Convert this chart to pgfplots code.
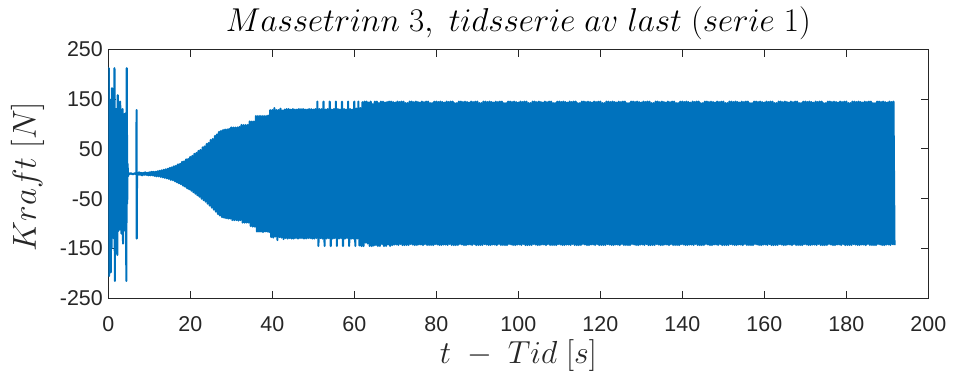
\RequirePackage{fix-cm}
\documentclass[border=0pt]{standalone}
\usepackage[no-math]{fontspec}
\usepackage{pgfplots}
\pgfplotsset{compat=1.18}
\newfontfamily\ticksans{Liberation Sans}
\definecolor{matblue}{HTML}{0072BD}
\definecolor{axgray}{HTML}{262626}
\begin{document}
\begin{tikzpicture}
\path[use as bounding box] (-108.3bp,-79.7bp) rectangle (844.7bp,298.3bp);
\begin{axis}[
  scale only axis, width=820bp, height=249bp,
  xmin=0, xmax=200, ymin=-250, ymax=250,
  xtick={0,20,...,200}, ytick={-250,-150,...,250},
  tick align=inside,
  major tick length=7.5bp,
  axis line style={axgray, line width=0.9bp},
  tick style={axgray, line width=0.9bp},
  /pgf/number format/assume math mode=true,
  tick label style={font=\ticksans\fontsize{21.5}{25}\selectfont, text=axgray},
  xticklabel style={yshift=-15bp},
  yticklabel style={xshift=-2bp},
  title={$Massetrinn\;3,\ tidsserie\;av\;last\;(serie\;1)$},
  title style={at={(axis description cs:0.5,1.0796)}, anchor=center,
    font=\fontsize{33.2}{40}\selectfont},
  xlabel={$t\;-\;Tid\;[s]$},
  x label style={at={(axis description cs:0.5,-0.2317)}, anchor=center,
    font=\fontsize{32}{38}\selectfont, text=axgray},
  ylabel={$Kraft\;[N]$},
  y label style={at={(axis description cs:-0.0985,0.488)}, anchor=center,
    font=\fontsize{33.4}{40}\selectfont, text=axgray},
]
\addplot[matblue, line width=2.1bp, line join=round, no markers] coordinates {
(0,0)(0.1,212)(0.2,-205)(0.3,150)(0.4,-120)(0.5,118)(0.6,-198)(0.7,115)(0.8,-150)(0.9,172)
(1,-115)(1.1,122)(1.2,-112)(1.3,118)(1.4,-130)(1.5,212)(1.6,-215)(1.7,120)(1.8,-160)(1.9,130)
(2,-112)(2.1,118)(2.2,-163)(2.3,158)(2.4,-115)(2.5,120)(2.6,-108)(2.7,122)(2.8,-112)(2.9,145)
(3,-110)(3.1,118)(3.2,-120)(3.3,115)(3.4,-110)(3.5,130)(3.6,-140)(3.7,118)(3.8,-112)(3.9,120)
(4,-110)(4.1,116)(4.2,-115)(4.3,122)(4.4,-215)(4.5,212)(4.6,-60)(4.7,20)(4.8,-5)(4.9,2)
(5,-1)(5.5,1)(6,-1)(6.5,1)(6.85,-1)(6.9,128)(6.95,-130)
(7,2)(7.25,-2)(7.5,3)(7.75,-2)
(8,2)(8.25,-3)(8.5,2)(8.75,-2)
(9,3)(9.25,-2)(9.5,2)(9.75,-3)
(10,3)(10.25,-3)(10.5,4)(10.75,-3)
(11,4)(11.25,-4)(11.5,4)(11.75,-5)
(12,5)(12.25,-5)(12.5,6)(12.75,-6)
(13,7)(13.25,-7)(13.5,8)(13.75,-8)
(14,9)(14.25,-9)(14.5,10)(14.75,-10)
(15,12)(15.25,-12)(15.5,13)(15.75,-13)
(16,15)(16.25,-15)(16.5,16)(16.75,-17)
(17,19)(17.25,-19)(17.5,20)(17.75,-21)
(18,24)(18.25,-24)(18.5,25)(18.75,-26)
(19,29)(19.25,-29)(19.5,30)(19.75,-31)
(20,34)(20.25,-34)(20.5,36)(20.75,-37)
(21,40)(21.25,-40)(21.5,42)(21.75,-43)
(22,46)(22.25,-46)(22.5,48)(22.75,-50)
(23,53)(23.25,-53)(23.5,55)(23.75,-56)
(24,60)(24.25,-60)(24.5,62)(24.75,-64)
(25,68)(25.25,-68)(25.5,70)(25.75,-72)
(26,76)(26.25,-76)(26.5,79)(26.75,-81)
(27,84)(27.25,-84)(27.5,86)(27.75,-87)
(28,88)(28.25,-88)(28.5,89)(28.75,-89)
(29,89)(29.25,-90)(29.5,90)(29.75,-90)
(30,93)(30.25,-93)(30.5,93)(30.75,-93)
(31,93)(31.25,-93)(31.5,93)(31.75,-94)
(32,94)(32.25,-93)(32.5,98)(32.75,-98)
(33,98)(33.25,-98)(33.5,98)(33.75,-98)
(34,98)(34.25,-98)(34.5,105)(34.75,-105)
(35,105)(35.25,-106)(35.5,105)(35.75,-106)
(36,116)(36.25,-116)(36.5,116)(36.75,-116)
(37,116)(37.25,-116)(37.5,116)(37.75,-117)
(38,116)(38.25,-116)(38.5,116)(38.75,-116)
(39,117)(39.25,-117)(39.5,128)(39.75,-127)
(40,128)(40.25,-128)(40.5,132)(40.75,-126)
(41,128)(41.25,-133)(41.5,128)(41.75,-127)
(42,131)(42.25,-128)(42.5,127)(42.75,-131)
(43,129)(43.25,-129)(43.5,130)(43.75,-130)
(44,130)(44.25,-129)(44.5,129)(44.75,-130)
(45,130)(45.25,-130)(45.5,129)(45.75,-129)
(46,129)(46.25,-130)(46.5,130)(46.75,-129)
(47,130)(47.25,-129)(47.5,130)(47.75,-130)
(48,129)(48.25,-130)(48.5,129)(48.75,-129)
(49,130)(49.25,-129)(49.5,130)(49.75,-130)
(50,129)(50.25,-130)(50.5,130)(50.75,-129)
(51,145)(51.25,-145)(51.5,130)(51.75,-129)
(52,130)(52.25,-130)(52.5,145)(52.75,-145)
(53,129)(53.25,-130)(53.5,130)(53.75,-129)
(54,145)(54.25,-145)(54.5,129)(54.75,-130)
(55,130)(55.25,-129)(55.5,145)(55.75,-145)
(56,130)(56.25,-130)(56.5,129)(56.75,-129)
(57,145)(57.25,-145)(57.5,130)(57.75,-130)
(58,129)(58.25,-129)(58.5,145)(58.75,-145)
(59,130)(59.25,-130)(59.5,129)(59.75,-130)
(60,145)(60.25,-145)(60.5,131)(60.75,-130)
(61,145)(61.25,-144)(61.5,132)(61.75,-145)
(62,144)(62.25,-145)(62.5,145)(62.75,-138)
(63,145)(63.25,-140)(63.5,143)(63.75,-145)
(64,145)(64.25,-145)(64.5,140)(64.75,-144)
(65,145)(65.25,-143)(65.5,145)(65.75,-145)
(66,142)(66.25,-145)(66.5,145)(66.75,-141)
(67,145)(67.25,-145)(67.5,143)(67.75,-145)
(68,144)(68.25,-142)(68.5,145)(68.75,-145)
(69,145)(69.25,-143)(69.5,144)(69.75,-142)
(70,143)(70.25,-142)(70.5,145)(70.75,-143)
(71,144)(71.25,-141)(71.5,145)(71.75,-143)
(72,145)(72.25,-143)(72.5,142)(72.75,-143)
(73,142)(73.25,-143)(73.5,145)(73.75,-141)
(74,145)(74.25,-142)(74.5,144)(74.75,-143)
(75,145)(75.25,-143)(75.5,144)(75.75,-142)
(76,143)(76.25,-142)(76.5,145)(76.75,-143)
(77,144)(77.25,-141)(77.5,145)(77.75,-143)
(78,145)(78.25,-143)(78.5,142)(78.75,-143)
(79,142)(79.25,-143)(79.5,145)(79.75,-141)
(80,145)(80.25,-142)(80.5,144)(80.75,-143)
(81,145)(81.25,-143)(81.5,144)(81.75,-142)
(82,143)(82.25,-142)(82.5,145)(82.75,-143)
(83,144)(83.25,-141)(83.5,145)(83.75,-143)
(84,145)(84.25,-143)(84.5,142)(84.75,-143)
(85,142)(85.25,-143)(85.5,145)(85.75,-141)
(86,145)(86.25,-142)(86.5,144)(86.75,-143)
(87,145)(87.25,-143)(87.5,144)(87.75,-142)
(88,143)(88.25,-142)(88.5,145)(88.75,-143)
(89,144)(89.25,-141)(89.5,145)(89.75,-143)
(90,145)(90.25,-143)(90.5,142)(90.75,-143)
(91,142)(91.25,-143)(91.5,145)(91.75,-141)
(92,145)(92.25,-142)(92.5,144)(92.75,-143)
(93,145)(93.25,-143)(93.5,144)(93.75,-142)
(94,143)(94.25,-142)(94.5,145)(94.75,-143)
(95,144)(95.25,-141)(95.5,145)(95.75,-143)
(96,145)(96.25,-143)(96.5,142)(96.75,-143)
(97,142)(97.25,-143)(97.5,145)(97.75,-141)
(98,145)(98.25,-142)(98.5,144)(98.75,-143)
(99,145)(99.25,-143)(99.5,144)(99.75,-142)
(100,143)(100.25,-142)(100.5,145)(100.75,-143)
(101,144)(101.25,-141)(101.5,145)(101.75,-143)
(102,145)(102.25,-143)(102.5,142)(102.75,-143)
(103,142)(103.25,-143)(103.5,145)(103.75,-141)
(104,145)(104.25,-142)(104.5,144)(104.75,-143)
(105,145)(105.25,-143)(105.5,144)(105.75,-142)
(106,143)(106.25,-142)(106.5,145)(106.75,-143)
(107,144)(107.25,-141)(107.5,145)(107.75,-143)
(108,145)(108.25,-143)(108.5,142)(108.75,-143)
(109,142)(109.25,-143)(109.5,145)(109.75,-141)
(110,145)(110.25,-142)(110.5,144)(110.75,-143)
(111,145)(111.25,-143)(111.5,144)(111.75,-142)
(112,143)(112.25,-142)(112.5,145)(112.75,-143)
(113,144)(113.25,-141)(113.5,145)(113.75,-143)
(114,145)(114.25,-143)(114.5,142)(114.75,-143)
(115,142)(115.25,-143)(115.5,145)(115.75,-141)
(116,145)(116.25,-142)(116.5,144)(116.75,-143)
(117,145)(117.25,-143)(117.5,144)(117.75,-142)
(118,143)(118.25,-142)(118.5,145)(118.75,-143)
(119,144)(119.25,-141)(119.5,145)(119.75,-143)
(120,145)(120.25,-143)(120.5,142)(120.75,-143)
(121,142)(121.25,-143)(121.5,145)(121.75,-141)
(122,145)(122.25,-142)(122.5,144)(122.75,-143)
(123,145)(123.25,-143)(123.5,144)(123.75,-142)
(124,143)(124.25,-142)(124.5,145)(124.75,-143)
(125,144)(125.25,-141)(125.5,145)(125.75,-143)
(126,145)(126.25,-143)(126.5,142)(126.75,-143)
(127,142)(127.25,-143)(127.5,145)(127.75,-141)
(128,145)(128.25,-142)(128.5,144)(128.75,-143)
(129,145)(129.25,-143)(129.5,144)(129.75,-142)
(130,143)(130.25,-142)(130.5,145)(130.75,-143)
(131,144)(131.25,-141)(131.5,145)(131.75,-143)
(132,145)(132.25,-143)(132.5,142)(132.75,-143)
(133,142)(133.25,-143)(133.5,145)(133.75,-141)
(134,145)(134.25,-142)(134.5,144)(134.75,-143)
(135,145)(135.25,-143)(135.5,144)(135.75,-142)
(136,143)(136.25,-142)(136.5,145)(136.75,-143)
(137,144)(137.25,-141)(137.5,145)(137.75,-143)
(138,145)(138.25,-143)(138.5,142)(138.75,-143)
(139,142)(139.25,-143)(139.5,145)(139.75,-141)
(140,145)(140.25,-142)(140.5,144)(140.75,-143)
(141,145)(141.25,-143)(141.5,144)(141.75,-142)
(142,143)(142.25,-142)(142.5,145)(142.75,-143)
(143,144)(143.25,-141)(143.5,145)(143.75,-143)
(144,145)(144.25,-143)(144.5,142)(144.75,-143)
(145,142)(145.25,-143)(145.5,145)(145.75,-141)
(146,145)(146.25,-142)(146.5,144)(146.75,-143)
(147,145)(147.25,-143)(147.5,144)(147.75,-142)
(148,143)(148.25,-142)(148.5,145)(148.75,-143)
(149,144)(149.25,-141)(149.5,145)(149.75,-143)
(150,145)(150.25,-143)(150.5,142)(150.75,-143)
(151,142)(151.25,-143)(151.5,145)(151.75,-141)
(152,145)(152.25,-142)(152.5,144)(152.75,-143)
(153,145)(153.25,-143)(153.5,144)(153.75,-142)
(154,143)(154.25,-142)(154.5,145)(154.75,-143)
(155,144)(155.25,-141)(155.5,145)(155.75,-143)
(156,145)(156.25,-143)(156.5,142)(156.75,-143)
(157,142)(157.25,-143)(157.5,145)(157.75,-141)
(158,145)(158.25,-142)(158.5,144)(158.75,-143)
(159,145)(159.25,-143)(159.5,144)(159.75,-142)
(160,143)(160.25,-142)(160.5,145)(160.75,-143)
(161,144)(161.25,-141)(161.5,145)(161.75,-143)
(162,145)(162.25,-143)(162.5,142)(162.75,-143)
(163,142)(163.25,-143)(163.5,145)(163.75,-141)
(164,145)(164.25,-142)(164.5,144)(164.75,-143)
(165,145)(165.25,-143)(165.5,144)(165.75,-142)
(166,143)(166.25,-142)(166.5,145)(166.75,-143)
(167,144)(167.25,-141)(167.5,145)(167.75,-143)
(168,145)(168.25,-143)(168.5,142)(168.75,-143)
(169,142)(169.25,-143)(169.5,145)(169.75,-141)
(170,145)(170.25,-142)(170.5,144)(170.75,-143)
(171,145)(171.25,-143)(171.5,144)(171.75,-142)
(172,143)(172.25,-142)(172.5,145)(172.75,-143)
(173,144)(173.25,-141)(173.5,145)(173.75,-143)
(174,145)(174.25,-143)(174.5,142)(174.75,-143)
(175,142)(175.25,-143)(175.5,145)(175.75,-141)
(176,145)(176.25,-142)(176.5,144)(176.75,-143)
(177,145)(177.25,-143)(177.5,144)(177.75,-142)
(178,143)(178.25,-142)(178.5,145)(178.75,-143)
(179,144)(179.25,-141)(179.5,145)(179.75,-143)
(180,145)(180.25,-143)(180.5,142)(180.75,-143)
(181,142)(181.25,-143)(181.5,145)(181.75,-141)
(182,145)(182.25,-142)(182.5,144)(182.75,-143)
(183,145)(183.25,-143)(183.5,144)(183.75,-142)
(184,143)(184.25,-142)(184.5,145)(184.75,-143)
(185,144)(185.25,-141)(185.5,145)(185.75,-143)
(186,145)(186.25,-143)(186.5,142)(186.75,-143)
(187,142)(187.25,-143)(187.5,145)(187.75,-141)
(188,145)(188.25,-142)(188.5,144)(188.75,-143)
(189,145)(189.25,-143)(189.5,144)(189.75,-142)
(190,143)(190.25,-142)(190.5,145)(190.75,-143)
(191,144)(191.25,-141)(191.5,145)(191.75,-143)
};
\end{axis}
\end{tikzpicture}
\end{document}
